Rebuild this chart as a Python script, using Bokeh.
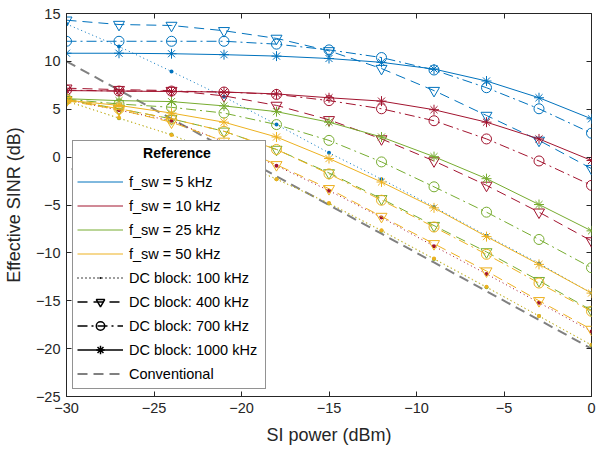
from bokeh.plotting import figure
from bokeh.models import (Legend, LegendItem, FixedTicker, Range1d, ColumnDataSource,
                          BoxAnnotation, LinearAxis)
from bokeh.embed import file_html
from bokeh.resources import INLINE

# ---------------- data ----------------
si_power = [-30, -27, -24, -21, -18, -15, -12, -9, -6, -3, 0]

# f_sw = 5 kHz
f5_dc100 = [13.9, 11.55, 8.95, 6.3, 3.4, 0.45, -2.3, -5.2, -8.2, -11.1, -14.2]
f5_dc400 = [14.3, 13.85, 13.75, 13.2, 12.4, 11.1, 9.25, 6.95, 4.35, 1.75, -1.2]
f5_dc700 = [12.1, 12.1, 12.1, 12.1, 11.8, 11.2, 10.4, 9.1, 7.25, 5.05, 2.5]
f5_dc1000 = [10.85, 10.85, 10.8, 10.7, 10.55, 10.3, 9.9, 9.2, 7.95, 6.2, 4.0]

# f_sw = 10 kHz
f10_dc100 = [6.0, 4.9, 3.8, 1.6, -0.9, -3.5, -6.3, -9.3, -12.2, -15.2, -18.2]
f10_dc400 = [7.2, 7.05, 6.95, 6.4, 5.4, 3.9, 1.9, -0.4, -2.95, -5.75, -8.75]
f10_dc700 = [7.0, 6.9, 6.9, 6.8, 6.55, 5.9, 5.05, 3.8, 1.9, -0.4, -2.95]
f10_dc1000 = [6.95, 6.9, 6.85, 6.8, 6.6, 6.2, 5.85, 4.95, 3.65, 1.9, -0.35]

# f_sw = 25 kHz
f25_dc100 = [5.9, 4.05, 2.35, 0.1, -2.3, -4.85, -7.7, -10.65, -13.6, -16.6, -19.65]
f25_dc400 = [6.0, 5.05, 4.0, 2.7, 0.8, -1.65, -4.35, -7.15, -9.9, -12.9, -16.0]
f25_dc700 = [6.05, 5.55, 5.2, 4.6, 3.4, 1.75, -0.5, -3.1, -5.75, -8.6, -11.55]
f25_dc1000 = [6.1, 5.9, 5.8, 5.35, 4.75, 3.65, 2.1, 0.05, -2.25, -4.95, -7.7]

# f_sw = 50 kHz
f50_dc100 = [5.8, 4.1, 2.3, 0.1, -2.3, -4.8, -7.65, -10.6, -13.55, -16.6, -19.6]
f50_dc400 = [5.9, 4.95, 3.65, 1.65, -0.8, -3.3, -6.2, -9.05, -11.9, -15.0, -18.0]
f50_dc700 = [6.0, 5.05, 4.0, 2.7, 0.8, -1.75, -4.5, -7.3, -10.15, -13.15, -16.1]
f50_dc1000 = [5.95, 5.4, 4.6, 3.65, 2.1, -0.15, -2.6, -5.3, -8.3, -11.2, -14.2]

conventional = [10, 7, 4, 1, -2, -5, -8, -11, -14, -17, -20]

fsw_labels = ["f_sw = 5 kHz", "f_sw = 10 kHz", "f_sw = 25 kHz", "f_sw = 50 kHz"]
dc_labels = ["DC block: 100 kHz", "DC block: 400 kHz", "DC block: 700 kHz", "DC block: 1000 kHz"]
x_ticks = [-30, -25, -20, -15, -10, -5, 0]
y_ticks = [-25, -20, -15, -10, -5, 0, 5, 10, 15]

# ---------------- styling ----------------
colors = ["#0072BD", "#A2142F", "#77AC30", "#EDB120"]
series = [
    [f5_dc100, f5_dc400, f5_dc700, f5_dc1000],
    [f10_dc100, f10_dc400, f10_dc700, f10_dc1000],
    [f25_dc100, f25_dc400, f25_dc700, f25_dc1000],
    [f50_dc100, f50_dc400, f50_dc700, f50_dc1000],
]
dashes = ["1 3", "10 6", "10 4 2 4", "solid"]
markers = ["dot", "inverted_triangle", "circle", "asterisk"]
msizes = [16, 11, 10, 10]
mfill = [True, False, False, False]

FONT = "Liberation Sans"
AX = "#262626"

p = figure(width=596, height=454, x_range=Range1d(-30, 0), y_range=Range1d(-25, 15),
           output_backend="svg", toolbar_location=None,
           min_border_left=65, min_border_right=5, min_border_top=13, min_border_bottom=58)
p.xgrid.visible = False
p.ygrid.visible = False
p.outline_line_color = AX
p.outline_line_alpha = 1
p.background_fill_color = "white"

p.xaxis.ticker = FixedTicker(ticks=x_ticks)
p.yaxis.ticker = FixedTicker(ticks=y_ticks)
for ax in (p.xaxis[0], p.yaxis[0]):
    ax.major_tick_in = 5
    ax.major_tick_out = 0
    ax.minor_tick_in = 0
    ax.minor_tick_out = 0
    ax.axis_line_color = AX
    ax.major_tick_line_color = AX
    ax.major_label_text_font = FONT
    ax.major_label_text_font_size = "14.5px"
    ax.major_label_text_color = AX
    ax.axis_label_text_font = FONT
    ax.axis_label_text_font_size = "18px"
    ax.axis_label_text_font_style = "normal"
    ax.axis_label_text_color = AX
p.xaxis.axis_label = "SI power (dBm)"
p.yaxis.axis_label = "Effective SINR (dB)"
p.xaxis.major_label_standoff = 6
p.yaxis.major_label_standoff = 6
p.xaxis.axis_label_standoff = 9
p.yaxis.axis_label_standoff = 9

# mirrored ticks on top and right (box style)
top_ax = LinearAxis(ticker=FixedTicker(ticks=x_ticks), major_tick_in=5, major_tick_out=0,
                    minor_tick_in=0, minor_tick_out=0, axis_line_color=None,
                    major_tick_line_color=AX, major_label_standoff=0,
                    major_label_overrides={t: "" for t in x_ticks})
right_ax = LinearAxis(ticker=FixedTicker(ticks=y_ticks), major_tick_in=5, major_tick_out=0,
                      minor_tick_in=0, minor_tick_out=0, axis_line_color=None,
                      major_tick_line_color=AX, major_label_standoff=0,
                      major_label_overrides={t: "" for t in y_ticks})
p.add_layout(top_ax, "above")
p.add_layout(right_ax, "right")

# conventional
conv_r = p.line(si_power, conventional, line_color="#808080", line_width=2, line_dash="10 6")

solid_lines = []
for ci, col in enumerate(colors):
    for di in range(4):
        ys = series[ci][di]
        src = ColumnDataSource(dict(x=si_power, y=ys))
        r = p.line("x", "y", source=src, line_color=col, line_width=1, line_dash=dashes[di])
        if di == 3:
            solid_lines.append(r)
        p.scatter("x", "y", source=src, marker=markers[di], size=msizes[di],
                  line_color=col, line_width=1,
                  fill_color=col if mfill[di] else None)

items = []
for lab, r in zip(fsw_labels, solid_lines):
    items.append(LegendItem(label=lab, renderers=[r]))
nan = float("nan")
for di, lab in enumerate(dc_labels):
    ph = ColumnDataSource(dict(x=[nan], y=[nan]))
    lr = p.line("x", "y", source=ph, line_color="black", line_width=1.3, line_dash=dashes[di])
    sr = p.scatter("x", "y", source=ph, marker=markers[di], size=msizes[di],
                   line_color="black", line_width=1.5,
                   fill_color="black" if mfill[di] else None)
    items.append(LegendItem(label=lab, renderers=[lr, sr]))
items.append(LegendItem(label="Conventional", renderers=[conv_r]))

legend = Legend(items=items, location=(6, 7))
legend.title = "\u00a0" * 17 + "Reference" + "\u00a0" * 13
legend.title_text_font = FONT
legend.title_text_font_size = "14px"
legend.title_text_font_style = "bold"
legend.title_text_color = "black"
legend.title_standoff = 10
legend.label_text_font = FONT
legend.label_text_font_size = "14.5px"
legend.label_text_color = "black"
legend.glyph_width = 46
legend.glyph_height = 21
legend.label_height = 21
legend.spacing = 3
legend.padding = 4
legend.margin = 0
legend.label_standoff = 6
legend.border_line_color = AX
legend.border_line_width = 1
legend.background_fill_color = "white"
legend.background_fill_alpha = 1
p.add_layout(legend)

# separator line under the legend title (decoration, canvas pixels)
sep = BoxAnnotation(left=71, right=263, top=168, bottom=169,
                    left_units="canvas", right_units="canvas",
                    top_units="canvas", bottom_units="canvas",
                    fill_color=AX, fill_alpha=1, line_alpha=0)
p.add_layout(sep)

open("out.html", "w").write(file_html(p, INLINE))
